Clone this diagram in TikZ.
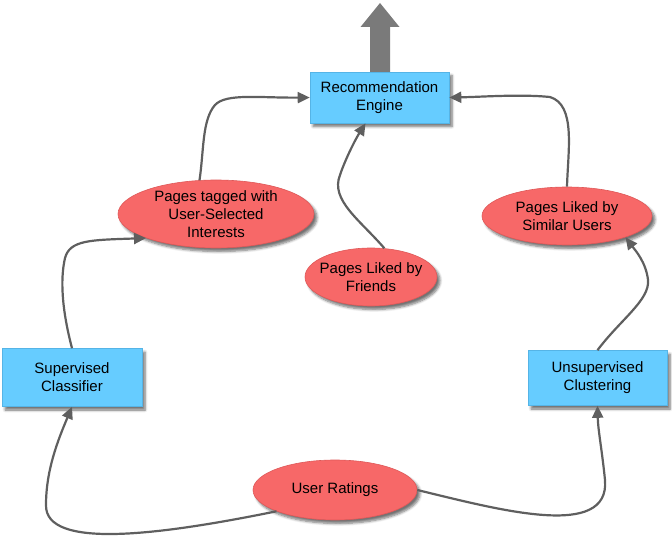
\documentclass[tikz,border=0pt]{standalone}
\usepackage{fontspec}
\setmainfont{Liberation Sans}
\usetikzlibrary{shapes.geometric,arrows.meta,shadows.blur,calc}
\definecolor{boxblue}{RGB}{102,204,255}
\definecolor{boxline}{RGB}{85,180,230}
\definecolor{ellred}{RGB}{247,104,104}
\definecolor{ellline}{RGB}{222,88,88}
\definecolor{conn}{RGB}{95,95,95}
\definecolor{bigarrow}{RGB}{122,122,122}
\begin{document}
\begin{tikzpicture}[x=1pt,y=-1pt,
  font=\fontsize{15}{18}\selectfont,
  shadowed/.style={blur shadow={shadow xshift=3pt,shadow yshift=-3.5pt,shadow blur radius=2.5pt,shadow blur steps=6,shadow opacity=55}},
  box/.style={rectangle,fill=boxblue,draw=boxline,line width=0.6pt,align=center,inner sep=0pt,shadowed},
  oval/.style={ellipse,fill=ellred,draw=ellline,line width=0.6pt,align=center,inner xsep=-20pt,inner ysep=-10pt,shadowed},
  link/.style={draw=conn,line width=2.2pt,-{Triangle[length=12pt,width=11pt]}},
]
\useasboundingbox (0,0) rectangle (672,545);

% big output arrow
\coordinate (outbase) at (379.5,72);
\fill[bigarrow] ($(outbase)+(-9.5,0)$) -- ($(outbase)+(-9.5,-45)$) -- ($(outbase)+(-19,-45)$)
  -- ($(outbase)+(0.5,-69)$) -- ($(outbase)+(20,-45)$) -- ($(outbase)+(10.5,-45)$) -- ($(outbase)+(10.5,0)$) -- cycle;

% nodes
\node[box,minimum width=139pt,minimum height=51pt] (rec) at (379.5,97.5) {Recommendation\\Engine};
\node[box,minimum width=140pt,minimum height=58pt] (sup) at (72,377.5) {Supervised\\Classifier};
\node[box,minimum width=139pt,minimum height=55pt] (uns) at (597.5,378) {Unsupervised\\Clustering};
\node[oval,minimum width=196pt,minimum height=68pt] (pt) at (216,214) {Pages tagged with\\User-Selected\\Interests};
\node[oval,minimum width=132pt,minimum height=58pt] (fr) at (371,277) {Pages Liked by\\Friends};
\node[oval,minimum width=170pt,minimum height=58pt] (sim) at (567,216) {Pages Liked by\\Similar Users};
\node[oval,minimum width=164pt,minimum height=60pt] (ur) at (335,490) {User Ratings};

% connectors
\draw[link] (ur.200) .. controls (160,535) and (45,550) .. (46,505) .. controls (46,470) and (58,440) .. (sup.south);
\draw[link] (ur.east) .. controls (500,510) and (610,540) .. (605,480) .. controls (602,450) and (598,430) .. (uns.south);
\draw[link] (sup.north) .. controls (62,310) and (60,280) .. (65,258) .. controls (70,240) and (90,240) .. (pt.199);
\draw[link] (pt.116) .. controls (204,150) and (202,120) .. (215,105) .. controls (226,93) and (260,98) .. (rec.west);
\draw[link] (fr.65) .. controls (360,220) and (330,200) .. (340,175) .. controls (345,160) and (355,140) .. ($(rec.south)+(-14,0)$);
\draw[link] (uns.north) .. controls (620,320) and (650,300) .. (648,280) .. controls (646,262) and (635,250) .. (sim.-20);
\draw[link] (sim.north) .. controls (568,150) and (576,105) .. (550,97) .. controls (520,94) and (480,97) .. (rec.east);
\end{tikzpicture}
\end{document}
